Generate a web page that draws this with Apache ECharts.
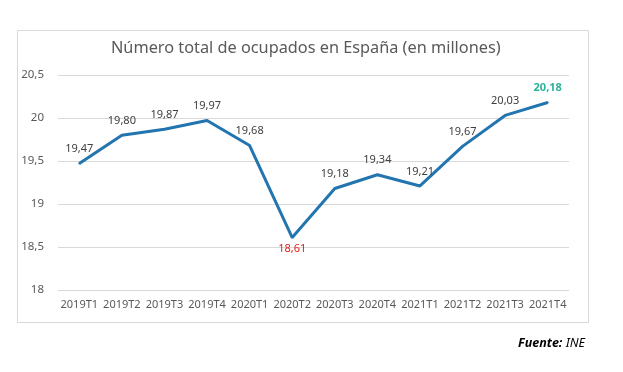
<!DOCTYPE html>
<html><head><meta charset="utf-8">
<script src="https://cdn.jsdelivr.net/npm/echarts@6/dist/echarts.min.js"></script>
<style>html,body{margin:0;padding:0;background:#fff}#c{width:623px;height:372px}</style>
</head><body><div id="c"></div>
<script>
const categories = ['2019T1','2019T2','2019T3','2019T4','2020T1','2020T2','2020T3','2020T4','2021T1','2021T2','2021T3','2021T4'];
const ocupados = [19.47,19.80,19.87,19.97,19.68,18.61,19.18,19.34,19.21,19.67,20.03,20.18];
const yTicks = [18,18.5,19,19.5,20,20.5];
const titleText = 'Número total de ocupados en España (en millones)';
const fmt = v => String(v).replace('.', ',');
const fmt2 = v => v.toFixed(2).replace('.', ',');
const minIdx = ocupados.indexOf(Math.min(...ocupados));
const lastIdx = ocupados.length - 1;
const font = 'Noto Sans';
const chart = echarts.init(document.getElementById('c'));
chart.setOption({
  animation:false,
  title:{text:titleText,left:106,top:35,textStyle:{fontFamily:font,fontSize:16.3,fontWeight:'normal',color:'#595959'}},
  graphic:[
    {type:'rect',shape:{x:17.5,y:30.5,width:571,height:292},style:{fill:'none',stroke:'#d9d9d9',lineWidth:1},silent:true},
    {type:'text',right:38,top:337,style:{rich:{b:{fontFamily:font,fontSize:12.5,fontWeight:'bold',fontStyle:'italic',fill:'#000'},i:{fontFamily:font,fontSize:12.5,fontStyle:'italic',fill:'#000'}},text:'{b|Fuente:}{i| INE}'}}
  ],
  grid:{left:58,right:54,top:75,bottom:82},
  xAxis:{type:'category',data:categories,boundaryGap:true,
    axisLine:{show:false},axisTick:{show:false},
    axisLabel:{fontFamily:font,fontSize:11,color:'#595959',margin:9,interval:0}},
  yAxis:{type:'value',min:yTicks[0],max:yTicks[yTicks.length-1],interval:0.5,
    axisLine:{show:false},axisTick:{show:false},
    splitLine:{lineStyle:{color:'#d9d9d9',width:1}},
    axisLabel:{fontFamily:font,fontSize:11.5,color:'#595959',margin:14,formatter:fmt}},
  series:[{type:'line',data:ocupados.map((v,i)=>{
      const d={value:v};
      if(i===minIdx) d.label={position:'bottom',distance:5,color:'#e0201b'};
      if(i===lastIdx) d.label={color:'#2bb39a',fontWeight:'bold'};
      return d;}),
    symbol:'circle',symbolSize:2,showSymbol:true,showAllSymbol:true,itemStyle:{color:'#2375b0'},
    lineStyle:{color:'#2375b0',width:3},
    label:{show:true,position:'top',distance:8,fontFamily:font,fontSize:11,color:'#404040',formatter:p=>fmt2(p.value)}}]
});
</script></body></html>
